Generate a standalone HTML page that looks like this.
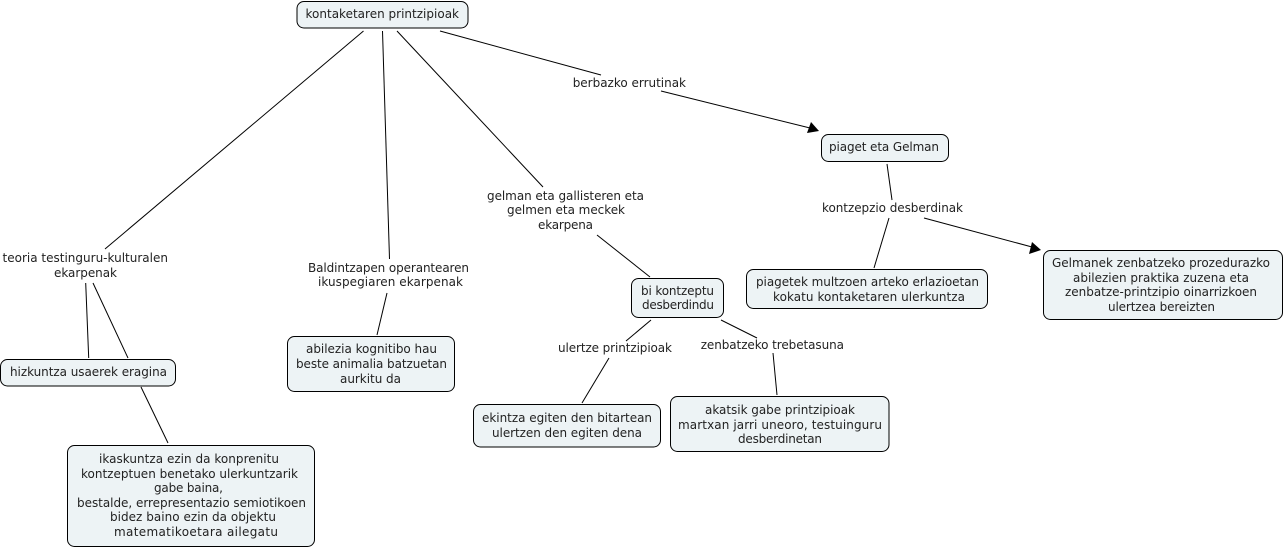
<!DOCTYPE html>
<html>
<head>
<meta charset="utf-8">
<title>kontaketaren printzipioak</title>
<style>
html,body{margin:0;padding:0;background:#fff;width:1285px;height:548px;overflow:hidden}
svg{display:block}
text{font-family:"DejaVu Sans","Liberation Sans",sans-serif;font-size:12px;fill:#222}
rect{fill:#edf3f5;stroke:#000;stroke-width:1}
line{stroke:#000;stroke-width:1}
polygon{fill:#000}
</style>
</head>
<body>
<svg xmlns="http://www.w3.org/2000/svg" width="1285" height="548" viewBox="0 0 1285 548">
<!-- connectors -->
<line x1="363.5" y1="31" x2="105" y2="249"/>
<line x1="382.5" y1="31" x2="389.5" y2="259"/>
<line x1="397" y1="31" x2="543" y2="187"/>
<line x1="440" y1="31" x2="601" y2="75"/>
<line x1="661" y1="91" x2="810" y2="128"/>
<polygon points="819,131 807,133 811,122"/>
<line x1="85.7" y1="283" x2="88.7" y2="358"/>
<line x1="93" y1="283" x2="128" y2="358"/>
<line x1="141" y1="387" x2="168" y2="443"/>
<line x1="387" y1="293" x2="377" y2="335"/>
<line x1="597" y1="235" x2="650" y2="277"/>
<line x1="651" y1="320" x2="626" y2="341"/>
<line x1="609" y1="358" x2="582" y2="403"/>
<line x1="721" y1="320" x2="757" y2="338"/>
<line x1="773" y1="353" x2="777" y2="395"/>
<line x1="887" y1="164" x2="892" y2="200"/>
<line x1="889" y1="218" x2="874" y2="268"/>
<line x1="924" y1="218" x2="1032" y2="247"/>
<polygon points="1041,250 1029,254 1032,242"/>
<!-- nodes -->
<rect x="297" y="1.5" width="171" height="26.5" rx="7"/>
<rect x="821.5" y="134.5" width="127" height="27" rx="7"/>
<rect x="1043.5" y="250.5" width="239" height="69" rx="7"/>
<rect x="746.5" y="269.5" width="241" height="39" rx="7"/>
<rect x="0.5" y="359.5" width="175" height="26.5" rx="7"/>
<rect x="67.5" y="445.5" width="247" height="101" rx="7"/>
<rect x="287.5" y="336.5" width="167" height="55" rx="7"/>
<rect x="631.5" y="278.5" width="92" height="39" rx="7"/>
<rect x="473.5" y="404.5" width="187" height="42.5" rx="7"/>
<rect x="670.5" y="396.5" width="218.5" height="55" rx="7"/>
<!-- text -->
<text x="305.5" y="18" textLength="153.5" lengthAdjust="spacing">kontaketaren printzipioak</text>
<text x="572.7" y="87" textLength="113.3" lengthAdjust="spacing">berbazko errutinak</text>
<text x="829" y="151" textLength="110" lengthAdjust="spacing">piaget eta Gelman</text>
<text x="822" y="212" textLength="141" lengthAdjust="spacing">kontzepzio desberdinak</text>
<text x="756" y="286" textLength="223" lengthAdjust="spacing">piagetek multzoen arteko erlazioetan</text>
<text x="773" y="301" textLength="192" lengthAdjust="spacing">kokatu kontaketaren ulerkuntza</text>
<text x="1052" y="267" textLength="218" lengthAdjust="spacing">Gelmanek zenbatzeko prozedurazko</text>
<text x="1073" y="282" textLength="176" lengthAdjust="spacing">abilezien praktika zuzena eta</text>
<text x="1065" y="296" textLength="192" lengthAdjust="spacing">zenbatze-printzipio oinarrizkoen</text>
<text x="1108" y="311" textLength="107" lengthAdjust="spacing">ulertzea bereizten</text>
<text x="2.5" y="262" textLength="165.5" lengthAdjust="spacing">teoria testinguru-kulturalen</text>
<text x="54" y="277" textLength="63" lengthAdjust="spacing">ekarpenak</text>
<text x="10" y="376" textLength="157" lengthAdjust="spacing">hizkuntza usaerek eragina</text>
<text x="99" y="463" textLength="180" lengthAdjust="spacing">ikaskuntza ezin da konprenitu</text>
<text x="81" y="478" textLength="217" lengthAdjust="spacing">kontzeptuen benetako ulerkuntzarik</text>
<text x="154" y="492" textLength="69" lengthAdjust="spacing">gabe baina,</text>
<text x="77" y="507" textLength="229" lengthAdjust="spacing">bestalde, errepresentazio semiotikoen</text>
<text x="110" y="521" textLength="166" lengthAdjust="spacing">bidez baino ezin da objektu</text>
<text x="114" y="536" textLength="164" lengthAdjust="spacing">matematikoetara ailegatu</text>
<text x="308" y="272" textLength="161" lengthAdjust="spacing">Baldintzapen operantearen</text>
<text x="318" y="286" textLength="145" lengthAdjust="spacing">ikuspegiaren ekarpenak</text>
<text x="306" y="353" textLength="131" lengthAdjust="spacing">abilezia kognitibo hau</text>
<text x="296" y="368" textLength="151" lengthAdjust="spacing">beste animalia batzuetan</text>
<text x="340" y="383" textLength="61" lengthAdjust="spacing">aurkitu da</text>
<text x="487" y="200" textLength="157" lengthAdjust="spacing">gelman eta gallisteren eta</text>
<text x="507" y="214" textLength="118" lengthAdjust="spacing">gelmen eta meckek</text>
<text x="538" y="229" textLength="55" lengthAdjust="spacing">ekarpena</text>
<text x="641" y="295" textLength="73" lengthAdjust="spacing">bi kontzeptu</text>
<text x="642" y="309" textLength="72" lengthAdjust="spacing">desberdindu</text>
<text x="558" y="352" textLength="114" lengthAdjust="spacing">ulertze printzipioak</text>
<text x="700.7" y="349" textLength="143.3" lengthAdjust="spacing">zenbatzeko trebetasuna</text>
<text x="482" y="422" textLength="170" lengthAdjust="spacing">ekintza egiten den bitartean</text>
<text x="492" y="437" textLength="150" lengthAdjust="spacing">ulertzen den egiten dena</text>
<text x="705" y="414" textLength="150" lengthAdjust="spacing">akatsik gabe printzipioak</text>
<text x="678" y="429" textLength="204" lengthAdjust="spacing">martxan jarri uneoro, testuinguru</text>
<text x="738" y="443" textLength="84" lengthAdjust="spacing">desberdinetan</text>
</svg>
</body>
</html>
